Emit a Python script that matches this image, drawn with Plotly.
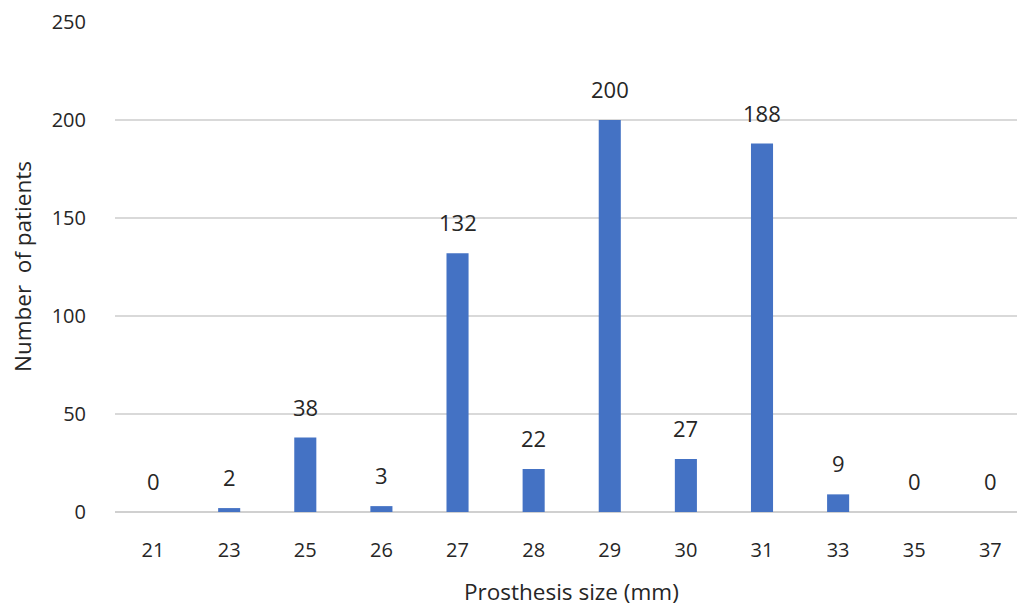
import plotly.graph_objects as go

sizes = ["21", "23", "25", "26", "27", "28", "29", "30", "31", "33", "35", "37"]
patients = [0, 2, 38, 3, 132, 22, 200, 27, 188, 9, 0, 0]

font_family = "'Open Sans', sans-serif"
text_color = "#262626"

fig = go.Figure(
    go.Bar(
        x=sizes,
        y=patients,
        marker=dict(color="#4472C4", line=dict(width=0)),
        hoverinfo="x+y",
    )
)

# value labels above each bar (category index used as x position)
for i, v in enumerate(patients):
    fig.add_annotation(
        x=i, xref="x", y=v, yref="y", text=str(v), showarrow=False,
        yshift=31, yanchor="middle",
        font=dict(family=font_family, size=22, color=text_color),
    )

# axis titles
fig.add_annotation(
    x=5.5, xref="x", y=0, yref="paper", yshift=-79, yanchor="middle",
    xanchor="center",
    text="Prosthesis size (mm)", showarrow=False,
    font=dict(family=font_family, size=22.5, color=text_color),
)
fig.add_annotation(
    x=0, xref="paper", xshift=-93, y=0.5, yref="paper", yanchor="middle",
    xanchor="center",
    text="Number  of patients", showarrow=False, textangle=-90,
    font=dict(family=font_family, size=22.5, color=text_color),
)

fig.update_layout(
    width=1017, height=606,
    margin=dict(l=115, r=0, t=22, b=94),
    paper_bgcolor="white", plot_bgcolor="white",
    bargap=0.71,
    showlegend=False,
    font=dict(family=font_family, color=text_color),
    xaxis=dict(
        type="category",
        range=[-0.5, 11.35],
        showgrid=False, showline=False, ticks="",
        tickfont=dict(size=20, color=text_color),
        ticklabelstandoff=24,
    ),
    yaxis=dict(
        range=[0, 250],
        tickvals=[0, 50, 100, 150, 200, 250],
        showgrid=True, gridcolor="#d9d9d9", gridwidth=1.5,
        zeroline=True, zerolinecolor="#d0d0d0", zerolinewidth=1.5,
        showline=False, ticks="",
        tickfont=dict(size=20, color=text_color),
        ticklabelstandoff=28,
    ),
)

fig.write_html("out.html")
